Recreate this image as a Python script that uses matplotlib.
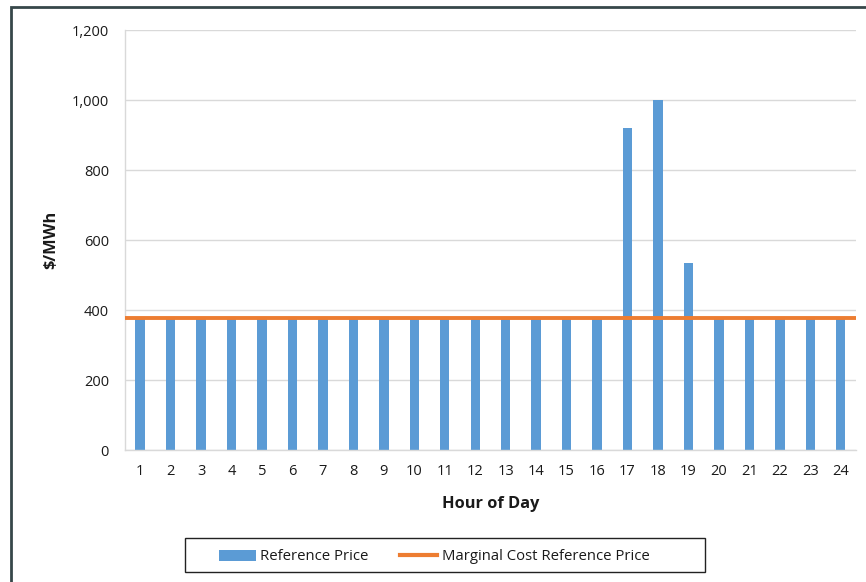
import matplotlib
matplotlib.use("Agg")
import matplotlib.pyplot as plt
from matplotlib.ticker import FuncFormatter
from matplotlib.lines import Line2D
from matplotlib.patches import Patch, Rectangle

# ---- Data --------------------------------------------------------------------
hours = list(range(1, 25))
reference_price = [378] * 16 + [920, 1000, 535] + [378] * 5
marginal_cost = [378] * 24

BAR_BLUE = "#5b9bd5"
LINE_ORANGE = "#ed7d31"
GRID = "#d9d9d9"
TEXT = "#1a1a1a"
FRAME = "#37474a"

plt.rcParams["font.family"] = ["Open Sans", "DejaVu Sans"]

W, H = 866, 582
fig = plt.figure(figsize=(W / 100, H / 100), dpi=100)
ax = fig.add_axes([0.1443, 0.2268, 0.8441, 0.7208])

ax.bar(hours, reference_price, width=0.31, color=BAR_BLUE, zorder=2)

# the constant cost line runs across the full category span
xs = [hours[0] - 0.5] + hours + [hours[-1] + 0.5]
ys = [marginal_cost[0]] + marginal_cost + [marginal_cost[-1]]
ax.plot(xs, ys, color=LINE_ORANGE, lw=2.8, zorder=3, solid_capstyle="butt")

ax.set_xlim(0.5, 24.5)
ax.set_ylim(0, 1200)
ax.set_yticks(range(0, 1201, 200))
ax.yaxis.set_major_formatter(FuncFormatter(lambda v, p: f"{int(v):,}"))
ax.set_xticks(hours)
ax.set_xticklabels([str(h) for h in hours])

ax.grid(axis="y", color=GRID, lw=1.0, zorder=0)
ax.set_axisbelow(True)
for side in ("top", "right"):
    ax.spines[side].set_visible(False)
for side in ("left", "bottom"):
    ax.spines[side].set_color(GRID)
    ax.spines[side].set_linewidth(1.0)
ax.tick_params(axis="both", length=0, labelsize=10.5, colors=TEXT)
ax.tick_params(axis="y", pad=11.5)
ax.tick_params(axis="x", pad=10)

ax.set_ylabel("$/MWh", fontsize=11.8, fontweight="bold", color=TEXT, labelpad=9)
ax.set_xlabel("Hour of Day", fontsize=11.8, fontweight="bold", color=TEXT, labelpad=12)

handles = [
    Patch(facecolor=BAR_BLUE, edgecolor="none"),
    Line2D([0], [0], color=LINE_ORANGE, lw=3),
]
leg = fig.legend(handles, ["Reference Price", "Marginal Cost Reference Price"],
                 loc="center", bbox_to_anchor=(434 / W, 1 - 557 / H),
                 ncol=2, fontsize=10.7, frameon=False,
                 handlelength=2.5, handleheight=0.7, handletextpad=0.3,
                 columnspacing=2.1, borderpad=0.3)
for t in leg.get_texts():
    t.set_color(TEXT)

# legend box is wider than its entries
fig.add_artist(Rectangle((185 / W, 1 - 572 / H), 520 / W, 34 / H,
                         transform=fig.transFigure, fill=False,
                         edgecolor="#222222", lw=1.0))

# outer chart frame (left and top edges visible)
fig.add_artist(Rectangle((11 / W, -0.05), 1.2, 1 - 7 / H + 0.05,
                         transform=fig.transFigure, fill=False,
                         edgecolor=FRAME, lw=2.0))

fig.savefig("out.png", dpi=100, facecolor="white")
